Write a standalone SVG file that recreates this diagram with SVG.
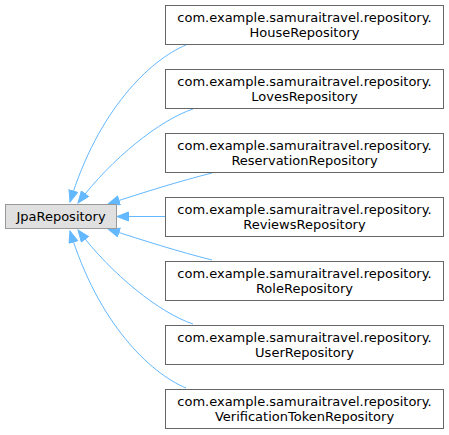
<svg xmlns="http://www.w3.org/2000/svg" width="449" height="435" viewBox="0 0 449 435">
<style>
.box{fill:#ffffff;stroke:#666666;stroke-width:1}
.root{fill:#e0e0e0;stroke:#999999;stroke-width:1}
.t{font-family:"DejaVu Sans",sans-serif;font-size:13px;fill:#000000;text-anchor:middle}
.e{fill:none;stroke:#63b8ff;stroke-width:1;marker-end:url(#ah)}
</style>
<defs>
<marker id="ah" markerUnits="userSpaceOnUse" markerWidth="13" markerHeight="11" refX="12" refY="5" orient="auto">
<path d="M0.5,0.5 L12,5 L0.5,9.5 Z" fill="#63b8ff" stroke="#63b8ff" stroke-width="1"/>
</marker>
</defs>
<g id="edges">
<path class="e" d="M186,45 C150,60 98,110 70,202"/>
<path class="e" d="M193,109 C160,120 112,158 78,203"/>
<path class="e" d="M212,173 C180,181 145,192 108,204"/>
<path class="e" d="M165,216.5 L117,216.5"/>
<path class="e" d="M212,260 C180,252 145,241 108,229"/>
<path class="e" d="M193,324 C160,313 112,275 78,230"/>
<path class="e" d="M186,388 C150,373 98,323 70,231"/>
</g>
<g id="JpaRepository">
<rect class="root" x="5.5" y="204.5" width="111" height="24"/>
<text class="t" x="61" y="221">JpaRepository</text>
</g>
<g id="HouseRepository">
<rect class="box" x="165.5" y="5.5" width="278" height="39"/>
<text class="t" x="304.5" y="22">com.example.samuraitravel.repository.</text>
<text class="t" x="304.5" y="37">HouseRepository</text>
</g>
<g id="LovesRepository">
<rect class="box" x="165.5" y="69.5" width="278" height="39"/>
<text class="t" x="304.5" y="86">com.example.samuraitravel.repository.</text>
<text class="t" x="304.5" y="101">LovesRepository</text>
</g>
<g id="ReservationRepository">
<rect class="box" x="165.5" y="133.5" width="278" height="39"/>
<text class="t" x="304.5" y="150">com.example.samuraitravel.repository.</text>
<text class="t" x="304.5" y="165">ReservationRepository</text>
</g>
<g id="ReviewsRepository">
<rect class="box" x="165.5" y="197.5" width="278" height="39"/>
<text class="t" x="304.5" y="214">com.example.samuraitravel.repository.</text>
<text class="t" x="304.5" y="229">ReviewsRepository</text>
</g>
<g id="RoleRepository">
<rect class="box" x="165.5" y="261.5" width="278" height="39"/>
<text class="t" x="304.5" y="278">com.example.samuraitravel.repository.</text>
<text class="t" x="304.5" y="293">RoleRepository</text>
</g>
<g id="UserRepository">
<rect class="box" x="165.5" y="325.5" width="278" height="39"/>
<text class="t" x="304.5" y="342">com.example.samuraitravel.repository.</text>
<text class="t" x="304.5" y="357">UserRepository</text>
</g>
<g id="VerificationTokenRepository">
<rect class="box" x="165.5" y="389.5" width="278" height="39"/>
<text class="t" x="304.5" y="406">com.example.samuraitravel.repository.</text>
<text class="t" x="304.5" y="421">VerificationTokenRepository</text>
</g>
</svg>
